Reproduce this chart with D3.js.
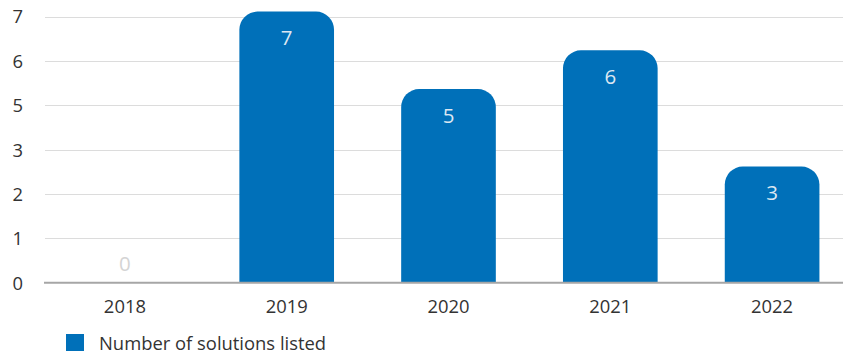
<!DOCTYPE html>
<html>
<head>
<meta charset="utf-8">
<script src="https://cdn.jsdelivr.net/npm/d3@7"></script>
<style>
  html, body { margin: 0; padding: 0; background: #ffffff; }
  svg { display: block; font-family: "Open Sans", "Noto Sans", sans-serif; }
</style>
</head>
<body>
<svg id="chart" width="843" height="354"></svg>
<script>
// ---- data ----
const categories = ["2018", "2019", "2020", "2021", "2022"];
const values = [0, 7, 5, 6, 3];
const seriesName = "Number of solutions listed";
const yTickValues = [0, 1.1455, 2.291, 3.4365, 4.582, 5.7275, 6.873];
const yTickLabels = ["0", "1", "2", "3", "5", "6", "7"];

// ---- layout ----
const W = 843, H = 354;
const plotLeft = 44, plotRight = 853, plotTop = 0, plotBottom = 282.7;
const barColor = "#0070b9";
const textColor = "#333333";
const fontSize = 18.4;

const svg = d3.select("#chart");

const x = d3.scaleBand()
  .domain(categories)
  .range([plotLeft, plotRight])
  .paddingInner(0.415)
  .paddingOuter(0.2075);

const y = d3.scaleLinear()
  .domain([0, 7.3])
  .range([plotBottom, plotTop]);

// gridlines
svg.append("g")
  .selectAll("line")
  .data(yTickValues.filter(v => v > 0))
  .join("line")
  .attr("x1", 45)
  .attr("x2", W)
  .attr("y1", d => Math.round(y(d)) + 0.5)
  .attr("y2", d => Math.round(y(d)) + 0.5)
  .attr("stroke", "#dcdcdc")
  .attr("stroke-width", 1);

// y axis labels
const yAxis = d3.axisLeft(y)
  .tickValues(yTickValues)
  .tickFormat((d, i) => yTickLabels[i])
  .tickSize(0)
  .tickPadding(0);

const yg = svg.append("g")
  .attr("transform", "translate(23,0)")
  .call(yAxis);
yg.select(".domain").remove();
yg.selectAll("text")
  .attr("font-size", fontSize)
  .attr("fill", textColor)
  .attr("font-family", "'Open Sans', sans-serif")
  .attr("dy", "0.35em");

// bars with rounded top corners
const r = 18;
function barPath(d, i) {
  const x0 = x(categories[i]);
  const w = x.bandwidth();
  const yTop = y(d);
  const yBot = y(0);
  const h = yBot - yTop;
  if (h <= 0) return "";
  const rr = Math.min(r, h, w / 2);
  return `M${x0},${yBot}` +
    `L${x0},${yTop + rr}` +
    `A${rr},${rr} 0 0 1 ${x0 + rr},${yTop}` +
    `L${x0 + w - rr},${yTop}` +
    `A${rr},${rr} 0 0 1 ${x0 + w},${yTop + rr}` +
    `L${x0 + w},${yBot}Z`;
}

svg.append("g")
  .selectAll("path")
  .data(values)
  .join("path")
  .attr("d", (d, i) => barPath(d, i))
  .attr("fill", barColor);

// x axis
const xAxis = d3.axisBottom(x).tickSize(0).tickPadding(0);
const xg = svg.append("g")
  .attr("transform", `translate(0,${plotBottom})`)
  .call(xAxis);
xg.select(".domain").remove();
xg.selectAll("text")
  .attr("font-size", fontSize)
  .attr("fill", textColor)
  .attr("font-family", "'Open Sans', sans-serif")
  .attr("dy", null)
  .attr("y", 313.3 - plotBottom);

// baseline
svg.append("line")
  .attr("x1", 44)
  .attr("x2", W)
  .attr("y1", plotBottom)
  .attr("y2", plotBottom)
  .attr("stroke", "#a6a6a6")
  .attr("stroke-width", 2);

// value labels
svg.append("g")
  .selectAll("text")
  .data(values)
  .join("text")
  .attr("x", (d, i) => x(categories[i]) + x.bandwidth() / 2)
  .attr("y", d => d > 0 ? y(d) + 33.7 : y(d) - 11.7)
  .attr("text-anchor", "middle")
  .attr("font-size", 20.5)
  .attr("fill", d => d > 0 ? "#dce7f2" : "#d4d4d4")
  .text(d => d);

// legend
const lg = svg.append("g");
lg.append("rect")
  .attr("x", 66)
  .attr("y", 334)
  .attr("width", 18)
  .attr("height", 17)
  .attr("fill", barColor);
lg.append("text")
  .attr("x", 99)
  .attr("y", 350)
  .attr("font-size", fontSize)
  .attr("fill", textColor)
  .text(seriesName);
</script>
</body>
</html>
